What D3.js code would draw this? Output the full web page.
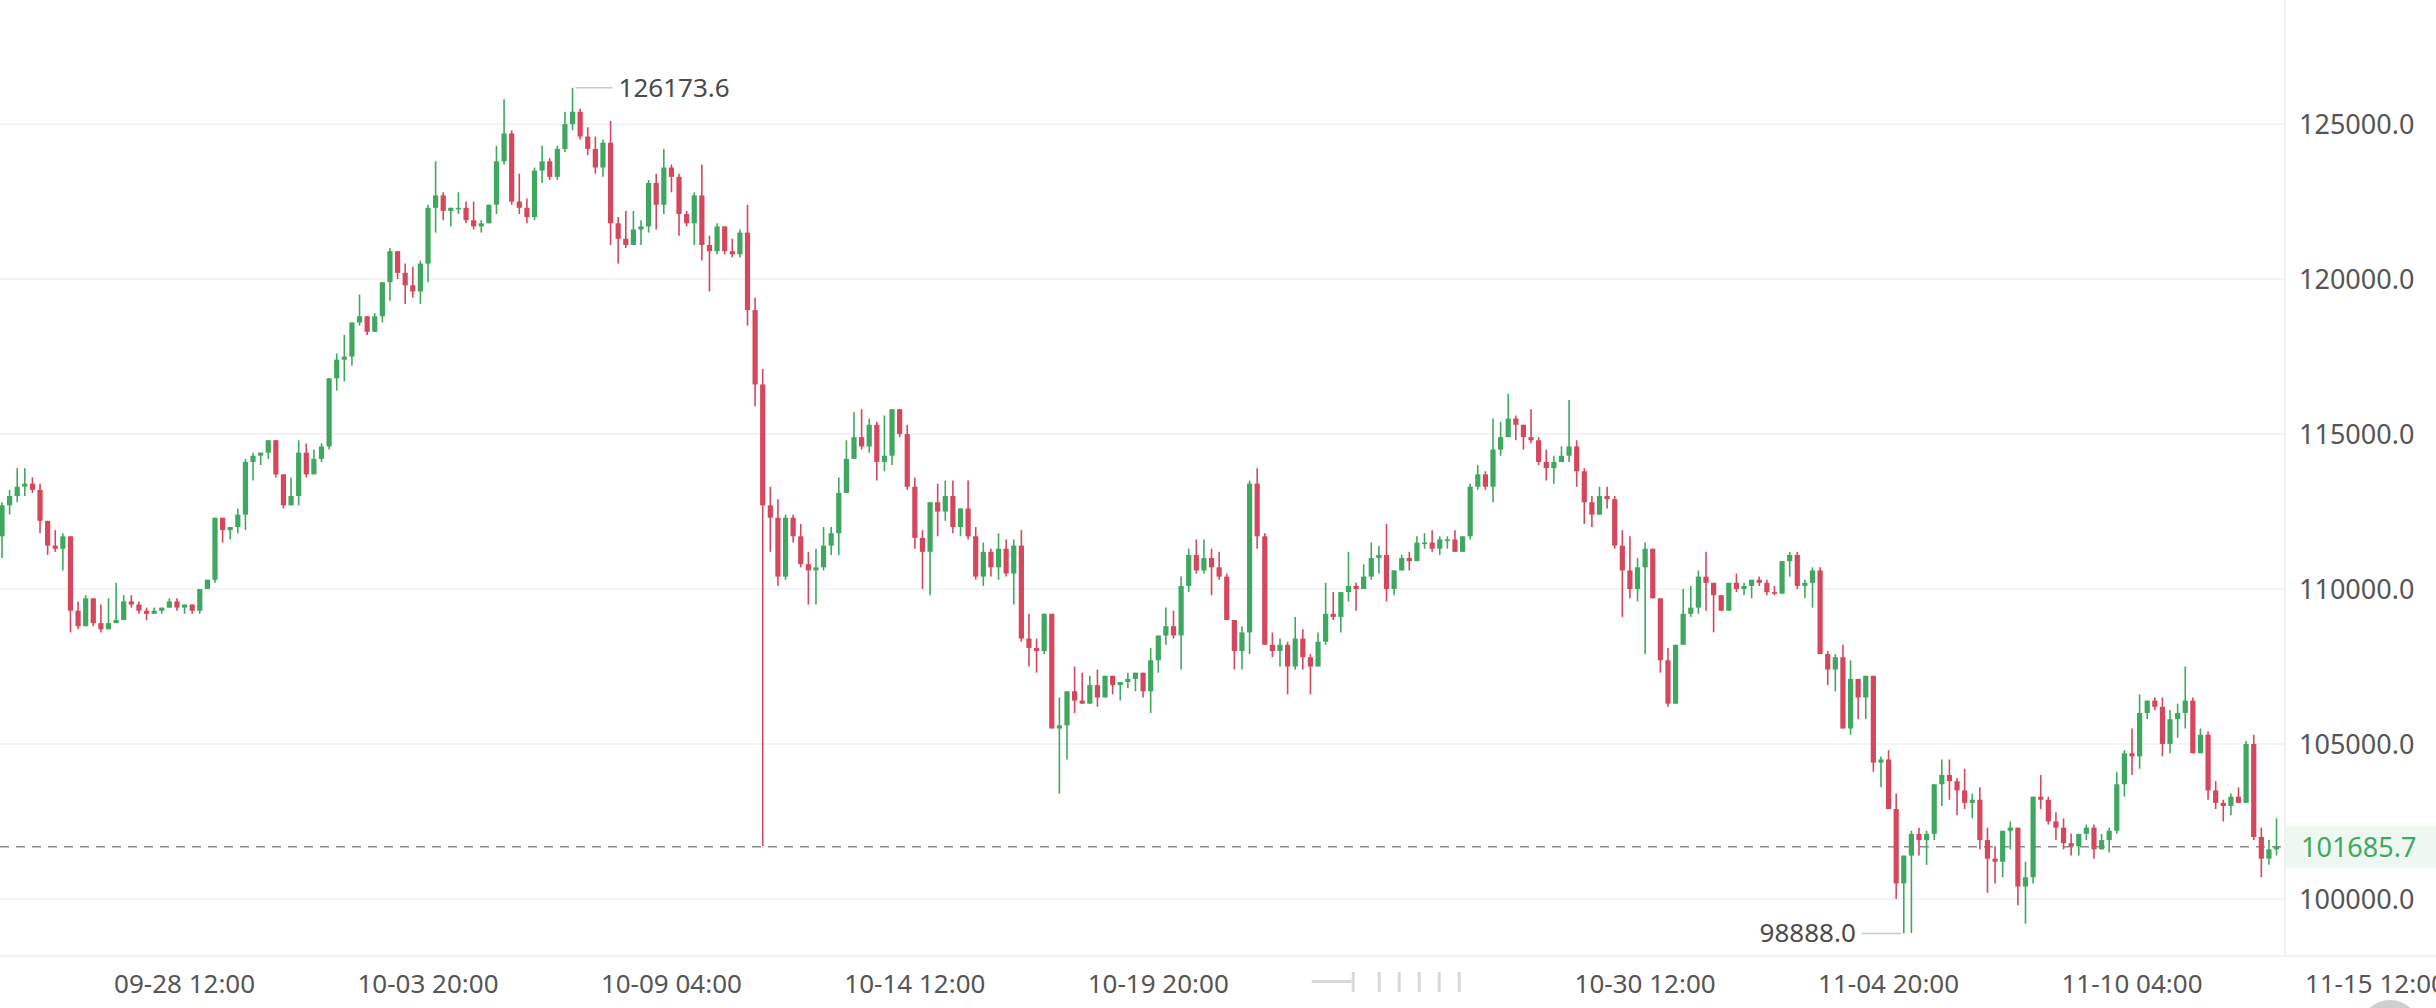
<!DOCTYPE html>
<html>
<head>
<meta charset="utf-8">
<script src="https://cdn.jsdelivr.net/npm/d3@7"></script>
<style>
  html, body { margin: 0; padding: 0; background: #fff; }
  svg { display: block; font-family: "Noto Sans", "Open Sans", sans-serif; }
</style>
</head>
<body>
<svg id="chart" width="2436" height="1008"></svg>
<script>
'use strict';

// 4h candles, prices in thousands
var startTime = "2025-09-24 12:00";
var firstOpenK = 111.7;
var closeK = [
  112.7,113.0,113.3,113.4,113.2,112.2,111.4,111.3,111.7,109.3,
  108.8,109.7,108.9,108.7,108.9,109.0,109.6,109.5,109.3,109.2,
  109.3,109.4,109.6,109.4,109.5,109.3,110.0,110.3,112.3,111.9,
  112.0,112.4,114.1,114.3,114.4,114.8,113.7,112.7,113.0,114.4,
  113.7,114.2,114.6,116.8,117.4,117.5,118.6,118.8,118.3,118.8,
  119.9,120.9,120.2,119.8,119.6,120.5,122.3,122.7,122.2,122.3,
  122.3,121.9,121.7,121.8,122.4,123.8,124.7,122.5,122.3,122.0,
  123.5,123.8,123.3,124.2,125.0,125.4,124.6,124.2,123.6,124.4,
  121.8,121.3,121.1,121.6,121.7,123.1,122.4,123.6,123.3,122.1,
  121.8,122.7,121.1,120.9,121.7,120.9,120.8,121.5,119.0,116.6,
  112.7,112.3,110.4,112.3,111.7,110.8,110.6,110.7,111.4,111.8,
  113.1,114.2,114.9,114.6,115.3,114.1,114.3,115.8,115.0,113.3,
  111.65,111.2,112.8,112.5,113.0,112.0,112.6,111.7,110.4,111.2,
  110.7,111.3,110.5,111.4,108.4,108.1,108.0,109.2,105.5,105.6,
  106.7,106.4,106.3,106.9,106.5,107.2,106.9,107.0,107.1,107.3,
  106.7,107.7,108.5,108.8,108.5,110.1,111.1,110.6,111.0,110.7,
  110.4,109.0,108.0,108.6,113.4,111.7,108.2,108.0,108.2,107.5,
  108.4,107.8,107.5,108.3,109.2,109.1,109.9,110.1,110.0,110.4,
  111.0,111.1,110.0,110.6,111.0,110.9,111.5,111.5,111.3,111.6,
  111.6,111.2,111.7,113.3,113.7,113.3,114.5,114.9,115.5,115.3,
  114.9,114.8,114.1,113.9,114.1,114.3,114.6,113.8,112.8,112.4,
  113.0,112.9,111.4,110.6,110.0,110.7,111.3,109.7,107.7,106.3,
  108.2,109.2,109.4,110.4,110.2,109.8,109.3,110.2,110.0,110.1,
  110.3,110.2,109.9,109.85,110.9,111.1,110.1,110.2,110.6,107.9,
  107.4,107.8,105.5,107.1,106.5,107.2,104.4,104.5,102.9,100.5,
  101.4,102.1,101.9,102.1,103.7,104.0,103.8,103.5,103.1,103.2,
  101.9,101.3,101.2,102.2,102.3,100.4,100.7,103.3,103.2,102.5,
  102.3,101.8,101.7,102.1,102.3,101.6,101.9,102.2,103.7,104.7,
  104.6,106.0,106.4,106.2,105.0,105.8,106.0,106.4,104.7,105.3,
  103.5,103.1,103.0,103.3,103.1,105.0,102.0,101.3,101.6,101.6857
];
var highK = [
  112.8,113.2,113.9,113.9,113.6,113.4,112.2,111.9,111.8,111.6,
  109.6,109.8,109.6,109.5,109.7,110.2,109.8,109.8,109.6,109.4,
  109.4,109.4,109.7,109.7,109.5,109.5,110.0,110.3,112.3,112.3,
  112.0,112.6,114.2,114.4,114.4,114.8,114.3,113.7,113.6,114.8,
  114.7,114.5,114.7,116.8,117.6,118.2,118.6,119.5,118.8,118.9,
  119.9,121.0,120.8,120.5,120.4,120.6,122.4,123.8,122.8,122.3,
  122.8,122.5,122.5,121.9,122.4,124.3,125.8,124.8,123.4,122.6,
  123.6,124.3,123.9,124.3,125.4,126.1736,125.5,124.9,124.6,124.5,
  125.1,122.0,122.2,122.2,121.9,123.2,123.4,124.2,123.7,123.4,
  122.2,122.8,123.7,121.4,121.8,121.7,121.3,121.6,122.4,119.4,
  117.1,113.3,112.9,112.4,112.4,112.1,111.2,111.3,112.0,112.0,
  113.6,114.8,115.7,115.8,115.5,115.4,115.6,115.8,115.8,115.3,
  113.6,111.9,112.8,113.4,113.5,113.5,112.6,113.5,112.0,111.5,
  111.3,111.8,111.6,111.6,111.9,109.2,108.4,109.2,109.2,106.5,
  106.7,107.5,107.3,107.2,107.4,107.2,107.2,107.0,107.3,107.3,
  107.2,108.1,108.5,109.4,109.3,110.4,111.3,111.6,111.6,111.3,
  111.2,110.5,109.0,108.8,113.5,113.9,111.8,108.6,108.4,108.3,
  109.1,108.7,107.9,108.6,110.2,109.9,109.9,111.2,110.2,110.8,
  111.5,111.4,112.1,110.6,111.1,111.2,111.7,111.8,111.9,111.7,
  111.7,111.9,111.7,113.4,114.0,113.8,115.5,115.4,116.3,115.6,
  115.3,115.8,114.9,114.5,114.3,114.6,116.1,114.8,113.9,113.0,
  113.3,113.3,113.0,111.9,111.7,111.0,111.5,111.3,109.7,108.1,
  108.2,110.0,110.1,110.6,111.2,110.2,109.8,110.2,110.5,110.2,
  110.3,110.4,110.3,110.1,110.9,111.2,111.2,110.3,110.7,110.7,
  108.0,107.9,108.2,107.7,107.1,107.2,107.2,104.6,104.8,103.4,
  101.4,102.2,102.3,102.2,103.7,104.5,104.5,103.9,104.2,103.4,
  103.6,102.3,101.7,102.2,102.5,102.3,101.2,103.3,104.0,103.3,
  102.8,102.6,102.1,102.1,102.4,102.4,102.1,102.3,104.1,104.8,
  105.5,106.6,106.4,106.5,106.5,106.1,106.3,107.5,106.5,105.5,
  105.4,103.8,103.2,103.4,103.6,105.1,105.3,102.3,101.9,102.6
];
var lowK = [
  111.0,112.4,112.8,113.0,113.1,111.8,111.1,111.2,110.6,108.6,
  108.7,108.8,108.8,108.6,108.8,108.9,109.0,109.4,109.2,109.0,
  109.2,109.2,109.4,109.3,109.2,109.2,109.2,110.0,110.2,111.5,
  111.6,111.8,111.9,113.5,114.0,114.2,113.6,112.6,112.8,112.7,
  113.6,113.9,114.1,114.5,116.4,116.7,117.2,118.5,118.2,118.3,
  118.6,119.3,120.0,119.2,119.4,119.2,119.9,121.5,121.9,121.7,
  122.1,121.8,121.6,121.5,121.8,122.1,123.7,122.4,122.1,121.8,
  121.9,123.1,123.2,123.2,124.1,124.8,124.5,124.0,123.4,123.3,
  121.1,120.5,121.0,121.2,121.1,121.5,121.6,122.1,122.8,121.4,
  121.7,121.1,120.6,119.6,120.8,120.8,120.7,120.7,118.5,115.9,
  101.7,111.2,110.1,110.3,111.5,110.7,109.5,109.5,110.6,111.1,
  111.1,113.1,114.2,114.5,114.4,113.5,113.8,114.0,114.9,113.2,
  111.3,110.0,109.8,111.7,112.2,111.8,111.7,111.6,110.3,110.1,
  110.4,110.3,110.4,109.5,108.3,107.5,107.3,107.9,105.5,103.4,
  104.5,106.0,106.3,106.3,106.2,106.6,106.6,106.4,106.8,106.7,
  106.5,106.0,107.3,108.2,108.4,107.4,109.9,110.5,110.5,109.8,
  110.3,109.0,107.4,107.4,107.9,111.3,108.2,107.8,107.5,106.6,
  107.4,107.4,106.6,107.5,108.2,109.0,108.6,109.6,109.3,110.0,
  110.3,110.5,109.6,109.8,110.6,110.6,110.9,111.3,111.2,111.1,
  111.3,111.2,111.2,111.6,113.2,113.2,112.8,114.3,114.9,114.8,
  114.5,114.7,114.0,113.5,113.4,114.1,114.1,113.3,112.1,112.0,
  112.4,112.6,111.3,109.1,109.7,109.6,107.9,109.7,107.3,106.2,
  106.3,108.2,109.1,109.2,109.3,108.6,109.3,109.3,109.9,109.8,
  109.7,110.1,109.8,109.8,109.9,110.4,110.0,109.7,109.4,107.9,
  106.9,106.7,105.5,105.3,105.8,105.8,104.1,103.6,102.9,100.0,
  98.888,98.9,101.4,101.1,101.9,103.0,103.2,102.7,102.9,102.6,
  101.6,100.2,100.5,100.7,101.6,99.8,99.2,100.5,102.9,102.4,
  101.9,101.6,101.4,101.4,101.9,101.3,101.6,101.5,102.1,103.3,
  104.0,104.2,105.8,106.1,104.6,104.7,105.2,105.5,104.7,104.7,
  103.2,102.9,102.5,102.7,103.1,103.1,101.9,100.7,101.1,101.4
];
var priceTicksK = [100, 105, 110, 115, 120, 125];
var timeTicks = ["09-28 12:00", "10-03 20:00", "10-09 04:00", "10-14 12:00", "10-19 20:00",
                 "10-30 12:00", "11-04 20:00", "11-10 04:00", "11-15 12:00"];
var lastPriceK = 101.6857;

var W = 2436, H = 1008, plotRight = 2285, plotBottom = 956;
var green = "#3fa860", red = "#d5475c";
var svg = d3.select("#chart");

var parse = d3.utcParse("%Y-%m-%d %H:%M");
var t0 = parse(startTime);
var candles = closeK.map(function(c, i) {
  return {t: d3.utcHour.offset(t0, 4 * i), o: i === 0 ? firstOpenK : closeK[i - 1], c: c, h: highK[i], l: lowK[i]};
});

var x = d3.scaleUtc().domain([t0, candles[280].t]).range([2, 2132]);
var y = d3.scaleLinear().domain([98.159, 129.005]).range([plotBottom, 0]);

// grid
svg.append("g").selectAll("line").data(priceTicksK).enter().append("line")
  .attr("x1", 0).attr("x2", plotRight)
  .attr("y1", function(d) { return y(d); }).attr("y2", function(d) { return y(d); })
  .attr("stroke", "#f0f0f0").attr("stroke-width", 1.5);

// axis frames
svg.append("line").attr("x1", plotRight).attr("x2", plotRight).attr("y1", 0).attr("y2", plotBottom)
  .attr("stroke", "#eef0f2").attr("stroke-width", 2);
svg.append("line").attr("x1", 0).attr("x2", W).attr("y1", plotBottom).attr("y2", plotBottom)
  .attr("stroke", "#eef0f2").attr("stroke-width", 2);

// last price dashed line
svg.append("line").attr("x1", 0).attr("x2", plotRight)
  .attr("y1", y(lastPriceK)).attr("y2", y(lastPriceK))
  .attr("stroke", "#8a8a8a").attr("stroke-width", 1.5).attr("stroke-dasharray", "9,7");

// candles
var cg = svg.append("g").selectAll("g").data(candles).enter().append("g");
cg.append("line")
  .attr("x1", function(d) { return x(d.t); }).attr("x2", function(d) { return x(d.t); })
  .attr("y1", function(d) { return y(Math.max(d.h, d.o, d.c)); })
  .attr("y2", function(d) { return y(Math.min(d.l, d.o, d.c)); })
  .attr("stroke", function(d) { return d.c >= d.o ? green : red; })
  .attr("stroke-width", 1.6);
cg.append("rect")
  .attr("x", function(d) { return x(d.t) - 2.6; })
  .attr("width", 5.2)
  .attr("y", function(d) { return y(Math.max(d.o, d.c)); })
  .attr("height", function(d) { return Math.max(1.5, Math.abs(y(d.o) - y(d.c))); })
  .attr("fill", function(d) { return d.c >= d.o ? green : red; });

// max / min markers
var maxC = candles.reduce(function(a, b) { return b.h > a.h ? b : a; });
var minC = candles.reduce(function(a, b) { return b.l < a.l ? b : a; });
svg.append("line").attr("x1", x(maxC.t) + 3).attr("x2", x(maxC.t) + 40)
  .attr("y1", y(maxC.h)).attr("y2", y(maxC.h)).attr("stroke", "#c8c8c8").attr("stroke-width", 1.5);
svg.append("text").attr("x", x(maxC.t) + 46).attr("y", y(maxC.h) + 9)
  .attr("font-size", 26).attr("fill", "#4a4a4a").text((maxC.h * 1000).toFixed(1));
svg.append("line").attr("x1", x(minC.t) - 3).attr("x2", x(minC.t) - 42)
  .attr("y1", y(minC.l)).attr("y2", y(minC.l)).attr("stroke", "#c8c8c8").attr("stroke-width", 1.5);
svg.append("text").attr("x", x(minC.t) - 48).attr("y", y(minC.l) + 9).attr("text-anchor", "end")
  .attr("font-size", 26).attr("fill", "#4a4a4a").text((minC.l * 1000).toFixed(1));

// y axis labels
svg.append("g").selectAll("text").data(priceTicksK).enter().append("text")
  .attr("x", 2299).attr("y", function(d) { return y(d) + 10; })
  .attr("font-size", 27).attr("fill", "#555")
  .text(function(d) { return (d * 1000).toFixed(1); });

// last price tag
svg.append("rect").attr("x", plotRight + 1).attr("y", y(lastPriceK) - 21).attr("width", W - plotRight)
  .attr("height", 42).attr("fill", "#eef8f1");
svg.append("text").attr("x", 2301).attr("y", y(lastPriceK) + 10)
  .attr("font-size", 27).attr("fill", green).text((lastPriceK * 1000).toFixed(1));

// x axis labels
var tickParse = d3.utcParse("%Y-%m-%d %H:%M");
svg.append("g").selectAll("text").data(timeTicks).enter().append("text")
  .attr("x", function(d) { return x(tickParse("2025-" + d)); })
  .attr("y", 993).attr("text-anchor", "middle")
  .attr("font-size", 26).attr("fill", "#555")
  .text(function(d) { return d; });

// faded pager marks around 10-25
var pagerX = x(tickParse("2025-10-25 04:00"));
svg.append("g").selectAll("rect").data([-50, -24, -4, 16, 36, 56]).enter().append("rect")
  .attr("x", function(d) { return pagerX + d; }).attr("y", 972).attr("width", 3).attr("height", 20)
  .attr("fill", "#d8d8d8");
svg.append("rect").attr("x", pagerX - 90).attr("y", 980).attr("width", 40).attr("height", 3).attr("fill", "#d8d8d8");

// scroll thumb
svg.append("circle").attr("cx", 2390).attr("cy", 1030).attr("r", 30).attr("fill", "#cfcfcf");
</script>
</body>
</html>
